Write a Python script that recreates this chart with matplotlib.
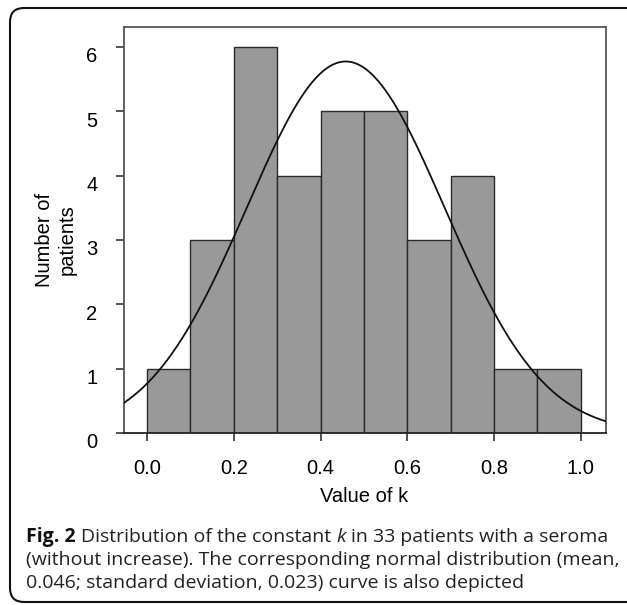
import numpy as np
import matplotlib
matplotlib.use("Agg")
import matplotlib.pyplot as plt
from matplotlib.patches import FancyBboxPatch
from matplotlib.transforms import ScaledTranslation

# ---- data ----
bin_edges = [0.0, 0.1, 0.2, 0.3, 0.4, 0.5, 0.6, 0.7, 0.8, 0.9, 1.0]
counts = [1, 3, 6, 4, 5, 5, 3, 4, 1, 1]
fit_mean = 0.458
fit_sd = 0.228
x_ticks = [0.0, 0.2, 0.4, 0.6, 0.8, 1.0]
x_ticklabels = ["0.0", "0.2", "0.4", "0.6", "0.8", "1.0"]
y_ticks = [0, 1, 2, 3, 4, 5, 6]
x_label = "Value of k"
y_label = "Number of\npatients"

W, H = 627, 605
DPI = 100
fig = plt.figure(figsize=(W / DPI, H / DPI), dpi=DPI)
fig.patch.set_facecolor("white")

def fx(px):
    return px / W

def fy(py):
    return (H - py) / H

axfont = "Liberation Sans"
fs = 14.5

ax = fig.add_axes([fx(124), fy(433), fx(606) - fx(124), fy(27) - fy(433)])
widths = np.diff(bin_edges)
ax.bar(bin_edges[:-1], counts, width=widths, align="edge",
       color="#999999", edgecolor="#2a2a2a", linewidth=1.0, zorder=2)

n_total = sum(counts)
bw = widths[0]
xs = np.linspace(-0.053, 1.058, 400)
ys = n_total * bw / (fit_sd * np.sqrt(2 * np.pi)) * np.exp(-0.5 * ((xs - fit_mean) / fit_sd) ** 2)
ax.plot(xs, ys, color="#111111", linewidth=1.3, zorder=3)

ax.set_xlim(-0.053, 1.058)
ax.set_ylim(0, 6.31)
ax.set_xticks(x_ticks)
ax.set_xticklabels(x_ticklabels)
ax.set_yticks(y_ticks)
ax.set_yticklabels([str(v) for v in y_ticks])

for sp in ax.spines.values():
    sp.set_color("#555555")
    sp.set_linewidth(1.3)
ax.spines["bottom"].set_color("#222222")

ax.tick_params(axis="both", direction="out", length=6, width=1.2, color="#333333",
               labelsize=fs, pad=13)
for lab in ax.get_xticklabels() + ax.get_yticklabels():
    lab.set_fontfamily(axfont)
for lab in ax.get_yticklabels():
    lab.set_transform(lab.get_transform() + ScaledTranslation(0, -8 / DPI, fig.dpi_scale_trans))

fig.text(fx(364), fy(497), x_label, ha="center", va="center", fontsize=fs, family=axfont)
fig.text(fx(56), fy(240), y_label, ha="center", va="center", rotation=90, fontsize=fs,
         family=axfont, multialignment="center", linespacing=1.25)

# ---- caption ----
capfont = "Open Sans"
cfs = 14.0
renderer = fig.canvas.get_renderer()

def text_width(s, **kw):
    t = fig.text(0, 0, s, fontsize=cfs, family=capfont, **kw)
    w = t.get_window_extent(renderer).width
    t.remove()
    return w

space_w = text_width("a a") - text_width("aa")

def draw_line(pieces, x0, yc):
    x = x0
    for i, (s, kw) in enumerate(pieces):
        if i > 0:
            x += space_w
        opts = {"color": "#222222"}
        opts.update(kw)
        t = fig.text(fx(x), fy(yc), s, fontsize=cfs, family=capfont, va="center", ha="left",
                     **opts)
        x += t.get_window_extent(renderer).width

draw_line([("Fig. 2", {"fontweight": "bold", "color": "#111111"}),
           ("Distribution of the constant", {}),
           ("k", {"style": "italic"}),
           ("in 33 patients with a seroma", {})], 26, 537)
draw_line([("(without increase). The corresponding normal distribution (mean,", {})], 26, 560)
draw_line([("0.046; standard deviation, 0.023) curve is also depicted", {})], 26, 583)

# ---- rounded frame ----
frame = FancyBboxPatch((10, H - 602), 650, 594, boxstyle="round,pad=0,rounding_size=14",
                       transform=None, facecolor="none", edgecolor="#111111",
                       linewidth=1.5, zorder=10)
fig.patches.append(frame)

fig.savefig("out.png", dpi=DPI)
